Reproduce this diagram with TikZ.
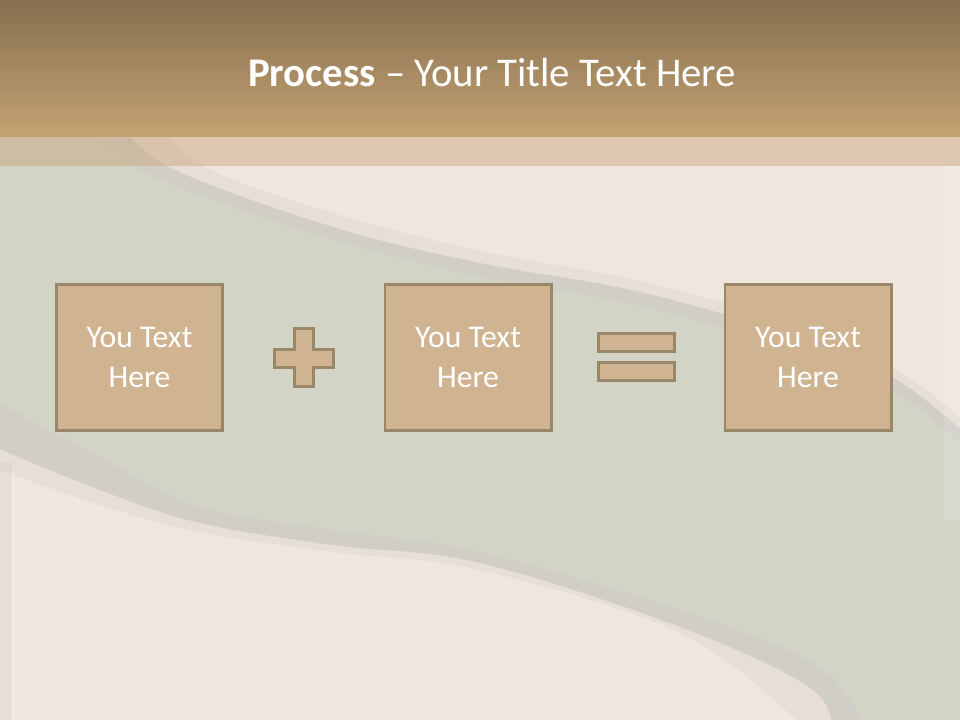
\documentclass[tikz,border=0pt]{standalone}
\usepackage{fontspec}
\setmainfont{Carlito}

\definecolor{cream}{HTML}{EFE7DE}
\definecolor{sage}{HTML}{D2D4C5}
\definecolor{rim}{HTML}{D0CEC7}
\definecolor{rimlight}{HTML}{E7DFD5}
\definecolor{barTop}{HTML}{86704F}
\definecolor{barBottom}{HTML}{C4A273}
\definecolor{veil}{HTML}{C9A27A}
\definecolor{tan}{HTML}{D0B391}
\definecolor{tanEdge}{HTML}{9A8769}

\tikzset{
  textbox/.style={draw=tanEdge, line width=2.1pt, fill=tan,
    minimum width=4.15cm, minimum height=3.65cm, inner sep=0pt,
    align=center, text=white, font=\fontsize{22.5}{28.5}\selectfont},
  signpart/.style={draw=tanEdge, line width=2.1pt, fill=tan},
}

% one band of the wave: colour, upper edge, lower edge
\newcommand\waveband[3]{%
  \begin{scope}
    \clip (-10,100) -- plot[smooth, tension=0.6] coordinates {#2}
      -- (975,740) -- (-10,740) -- cycle;
    \fill[#1] (-10,-10) -- plot[smooth, tension=0.6] coordinates {#3}
      -- (975,740) -- (975,-10) -- cycle;
  \end{scope}}

\begin{document}
\begin{tikzpicture}[x=0.025cm, y=-0.025cm]
  \useasboundingbox (0,0) rectangle (960,720);
  \fill[cream] (0,0) rectangle (960,720);

  % wave bands, from the outer rim inwards
  \waveband{rimlight}
    {(150,115) (203,166) (333,213) (480,251) (640,281) (800,327) (897,370) (975,430)}
    {(-10,466) (100,505) (200,532) (333,552) (480,570) (680,633) (797,720) (808,740)}
  \waveband{rim}
    {(115,115) (167,166) (333,227) (480,263) (640,292) (800,338) (897,380) (975,442)}
    {(-10,445) (100,490) (200,523) (333,545) (480,563) (680,627) (813,690) (832,740)}
  \waveband{sage}
    {(80,115) (133,166) (233,207) (333,240) (480,277) (640,306) (800,352) (897,393) (975,457)}
    {(-10,398) (100,457) (200,507) (333,530) (480,552) (680,610) (813,663) (863,720) (875,740)}

  % side strips
  \fill[white, opacity=0.12] (944,166) rectangle (960,520);
  \fill[rim, opacity=0.3] (0,462) rectangle (12,720);
  \fill[white, opacity=0.25] (12,470) rectangle (14,720);

  % title bar and veil
  \shade[top color=barTop, bottom color=barBottom] (0,0) rectangle (960,137);
  \fill[veil, opacity=0.45] (0,137) rectangle (960,166);
  \node[anchor=base, text=white, font=\fontsize{29}{34}\selectfont] (heading) at (492,87)
    {\textbf{Process} – Your Title Text Here};

  % three boxes
  \foreach \name/\x in {left/139.5, middle/468, right/808}
    \node[textbox] (\name) at (\x,357.5) {You Text\\Here};

  % plus sign
  \draw[signpart] (294.5,328.5) -- (313.5,328.5) -- (313.5,349.5) -- (333.5,349.5)
    -- (333.5,367.5) -- (313.5,367.5) -- (313.5,386.5) -- (294.5,386.5)
    -- (294.5,367.5) -- (274.5,367.5) -- (274.5,349.5) -- (294.5,349.5) -- cycle;

  % equals sign
  \draw[signpart] (598.5,333.5) rectangle (674.5,351.5);
  \draw[signpart] (598.5,362.5) rectangle (674.5,380.5);
\end{tikzpicture}
\end{document}
